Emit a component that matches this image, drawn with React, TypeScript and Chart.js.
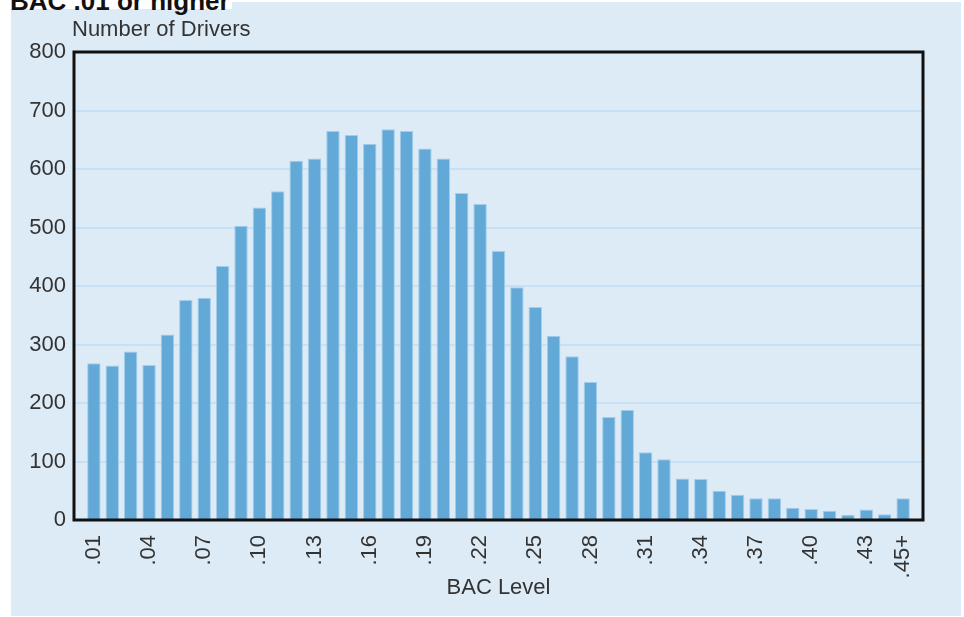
import React, { useEffect, useRef } from 'react';
import { Chart, registerables } from 'chart.js';

Chart.register(...registerables);

const categories = [
  '.01', '.02', '.03', '.04', '.05', '.06', '.07', '.08', '.09', '.10',
  '.11', '.12', '.13', '.14', '.15', '.16', '.17', '.18', '.19', '.20',
  '.21', '.22', '.23', '.24', '.25', '.26', '.27', '.28', '.29', '.30',
  '.31', '.32', '.33', '.34', '.35', '.36', '.37', '.38', '.39', '.40',
  '.41', '.42', '.43', '.44', '.45+',
];

const drivers = [
  268, 264, 288, 265, 317, 376, 380, 434, 503, 534,
  562, 614, 618, 665, 658, 643, 668, 665, 635, 618,
  559, 540, 460, 398, 364, 315, 280, 236, 176, 188,
  116, 104, 71, 70, 50, 43, 37, 37, 21, 19,
  16, 9, 18, 10, 37,
];

const tickLabels = [
  '.01', '.04', '.07', '.10', '.13', '.16', '.19', '.22',
  '.25', '.28', '.31', '.34', '.37', '.40', '.43', '.45+',
];

const chartTitle = 'BAC .01 or higher';
const yAxisTitle = 'Number of Drivers';
const xAxisTitle = 'BAC Level';

const FONT = '"Liberation Sans", Helvetica, Arial, sans-serif';
const TEXT = '#333333';

export default function App() {
  const ref = useRef<HTMLCanvasElement | null>(null);

  useEffect(() => {
    if (!ref.current) return;

    const framePlugin = {
      id: 'frame',
      afterDatasetsDraw(chart: any) {
        const { ctx, chartArea } = chart;
        ctx.save();
        ctx.strokeStyle = '#111111';
        ctx.lineWidth = 3;
        ctx.strokeRect(chartArea.left, chartArea.top, chartArea.right - chartArea.left, chartArea.bottom - chartArea.top);
        ctx.restore();
      },
    };

    const yTitlePlugin = {
      id: 'yTitle',
      afterDraw(chart: any) {
        const { ctx, chartArea } = chart;
        ctx.save();
        ctx.font = `22px ${FONT}`;
        ctx.fillStyle = TEXT;
        ctx.textAlign = 'left';
        ctx.textBaseline = 'alphabetic';
        ctx.fillText(yAxisTitle, chartArea.left - 2, 36);
        ctx.restore();
      },
    };

    const chart = new Chart(ref.current, {
      type: 'bar',
      data: {
        datasets: [
          {
            data: drivers.map((v, i) => ({ x: i, y: v })),
            backgroundColor: '#62a9d8',
            borderColor: '#a3cdea',
            borderWidth: 1,
            barPercentage: 0.73,
            categoryPercentage: 1,
          },
        ],
      },
      options: {
        animation: false,
        responsive: false,
        devicePixelRatio: 1,
        layout: { padding: { top: 52, right: 41, left: 0, bottom: 0 } },
        plugins: {
          legend: { display: false },
          tooltip: { enabled: false },
          title: { display: false },
        },
        scales: {
          x: {
            type: 'linear',
            min: -1.08,
            max: 45.08,
            offset: false,
            grid: { display: false, drawTicks: false, offset: false },
            border: { display: false },
            afterBuildTicks: (scale: any) => {
              scale.ticks = tickLabels.map((l) => ({ value: categories.indexOf(l) }));
            },
            afterFit: (scale: any) => {
              scale.height = 97;
            },
            ticks: {
              autoSkip: false,
              minRotation: 90,
              maxRotation: 90,
              padding: 15,
              color: TEXT,
              font: { family: FONT, size: 22 },
              callback: (v: any) => categories[v as number] ?? '',
            },
            title: {
              display: true,
              text: xAxisTitle,
              color: TEXT,
              font: { family: FONT, size: 22 },
              padding: { top: 0, bottom: 16 },
            },
          },
          y: {
            min: 0,
            max: 800,
            grid: { color: '#c8e0f3', lineWidth: 2, drawTicks: false },
            border: { display: false },
            afterFit: (scale: any) => {
              scale.width = 74;
            },
            ticks: {
              stepSize: 100,
              padding: 8,
              color: TEXT,
              font: { family: FONT, size: 22 },
            },
          },
        },
      },
      plugins: [framePlugin, yTitlePlugin],
    } as any);

    return () => chart.destroy();
  }, []);

  return (
    <div style={{ position: 'fixed', left: 0, top: 0, width: 964, height: 617, overflow: 'hidden', background: '#ffffff' }}>
      <div style={{ position: 'absolute', left: 11, top: 2, width: 950, height: 614, background: '#ddebf6' }} />
      <div style={{ position: 'absolute', left: 0, top: 0, width: 232, height: 9, background: '#ffffff' }} />
      <div
        style={{
          position: 'absolute',
          left: 10,
          top: -12,
          fontFamily: FONT,
          fontWeight: 'bold',
          fontSize: 26,
          lineHeight: '26px',
          color: '#111111',
          whiteSpace: 'nowrap',
        }}
      >
        {chartTitle}
      </div>
      <canvas
        ref={ref}
        width={964}
        height={617}
        style={{ position: 'absolute', left: 0, top: 0, width: 964, height: 617 }}
      />
    </div>
  );
}
